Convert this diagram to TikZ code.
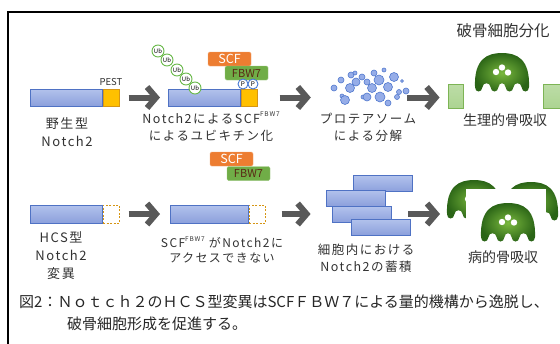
\documentclass[tikz,border=0pt]{standalone}
\usepackage{fontspec}
\setmainfont{Noto Sans CJK JP}
\newfontfamily\jpsp[LetterSpace=12]{Noto Sans CJK JP}
\usetikzlibrary{arrows.meta,positioning}

\definecolor{barline}{RGB}{79,114,196}
\definecolor{barhi}{RGB}{178,194,236}
\definecolor{barlo}{RGB}{140,160,220}
\definecolor{pestfill}{RGB}{255,192,0}
\definecolor{pestline}{RGB}{214,150,20}
\definecolor{scforange}{RGB}{237,125,49}
\definecolor{fbwgreen}{RGB}{112,173,71}
\definecolor{fbwtext}{RGB}{90,40,20}
\definecolor{ubgreen}{RGB}{104,184,72}
\definecolor{pblue}{RGB}{70,120,210}
\definecolor{arrowgray}{RGB}{89,89,89}
\definecolor{protfill}{RGB}{150,173,232}
\definecolor{protline}{RGB}{80,120,205}
\definecolor{boneline}{RGB}{125,180,85}
\definecolor{bonefill}{RGB}{172,212,145}
\definecolor{ocdark}{RGB}{42,100,22}
\definecolor{oclight}{RGB}{122,184,62}
\definecolor{txt}{RGB}{50,50,50}

\newcommand{\fbwsup}{\raisebox{0.55em}{\fontsize{6.5}{6.5}\selectfont FBW7}}

% osteoclast: dome with four feet, origin at top centre
\tikzset{
  osteo/.pic={
    \shade[inner color=oclight, outer color=ocdark]
      (-27,34) .. controls (-28,6) and (-15,0) .. (0,0)
      .. controls (15,0) and (28,6) .. (27,34)
      .. controls (27,40) and (20,40) .. (19.5,34)
      .. controls (19,29) and (12,29) .. (11.5,34)
      .. controls (11,40) and (4,40) .. (3.5,34)
      .. controls (3,29) and (-3,29) .. (-3.5,34)
      .. controls (-4,40) and (-11,40) .. (-11.5,34)
      .. controls (-12,29) and (-19,29) .. (-19.5,34)
      .. controls (-20,40) and (-27,40) .. (-27,34) -- cycle;
    \fill[white] (-6,19) circle (3.2) (0,14.5) circle (3.2) (6,19.5) circle (3.2);
  }
}

\begin{document}
\begin{tikzpicture}[x=1pt, y=-1pt,
    bar/.style={draw=barline, line width=0.8, top color=barhi, bottom color=barlo, inner sep=0, anchor=west},
    pest/.style={draw=pestline, line width=0.8, fill=pestfill, minimum width=16, inner sep=0, anchor=west},
    nopest/.style={draw=pestline, line width=0.8, dash pattern=on 2pt off 1.5pt, fill=white, minimum width=16, inner sep=0, anchor=west},
    stackbar/.style={draw=barline, line width=0.8, top color=barhi, bottom color=barlo, minimum width=59, minimum height=16, inner sep=0},
    scf/.style={rounded corners=1.5, fill=scforange, draw=scforange!70!white, text=white, minimum width=43, minimum height=14, inner sep=0, font=\fontsize{12.5}{12.5}\selectfont},
    fbw/.style={rounded corners=1.5, fill=fbwgreen, draw=fbwgreen!70!white, text=fbwtext, minimum width=43, minimum height=14, inner sep=0, font=\fontsize{11}{11}\selectfont},
    ub/.style={circle, draw=ubgreen, fill=white, line width=0.9, minimum size=12, inner sep=0, font=\fontsize{6}{6}\selectfont},
    phos/.style={circle, draw=pblue, fill=white, line width=0.9, minimum size=10, inner sep=0, font=\fontsize{6.5}{6.5}\selectfont},
    bone/.style={draw=boneline, line width=0.8, top color=bonefill!80!white, bottom color=bonefill, minimum height=24, inner sep=0},
    bubble/.style={draw=protline, line width=0.6, fill=protfill},
    bigarrow/.style={draw=arrowgray, line width=6, -{Straight Barb[length=9pt, width=21pt]}},
    lbl/.style={text=txt, align=center, inner sep=0, font=\jpsp\fontsize{12.5}{17}\selectfont},
    caption/.style={text=black!85, inner sep=0, anchor=west, font=\fontsize{15}{18}\selectfont}
]
\useasboundingbox (0,0) rectangle (560,343);

% frame
\draw[line width=1.6] (8,350) -- (8,12) -- (570,12);

% wild-type Notch2
\node[bar, minimum width=72, minimum height=17] (wt) at (30,97.5) {};
\node[pest, minimum height=17] (wtpest) at (wt.east) {};
\node[font=\fontsize{9.5}{9.5}\selectfont, text=txt] (pestlbl) at (111,82) {PEST};
\node[lbl, font=\jpsp\fontsize{13}{18}\selectfont] (wtlbl) at (67,132) {野生型\\Notch2};

% ubiquitination
\node[bar, minimum width=72, minimum height=17] (ubbar) at (168,97.5) {};
\node[pest, minimum height=17] (ubpest) at (ubbar.east) {};
\node[scf] (scf1) at (229.5,59) {SCF};
\node[fbw] (fbw1) at (246.5,73) {FBW7};
\node[phos] (p1) at (243,84) {P};
\node[phos] (p2) at (253,84) {P};
\foreach \i/\x/\y in {1/158/51, 2/167/60, 3/177/70, 4/186/79, 5/195/88}
  \node[ub] (ub\i) at (\x,\y) {Ub};
\node[lbl] (ublbl) at (211,127) {Notch2によるSCF\fbwsup\\によるユビキチン化};

% proteasome
\node[inner sep=0, minimum width=80, minimum height=38] (prot) at (370,89) {};
\foreach \x/\y/\r in {334/88/3, 341/80/3, 342/96/2, 345/100/4.5, 350/88/4.5, 351/75/3,
    355/73/2, 356/82/4, 362/77/3, 363/97/2, 367/82/3, 367/97/4, 372/88/4.5, 374/73/3,
    379/80/5, 380/97/5, 384/70/2, 388/87/4.5, 388/103/3, 394/77/4.5, 397/97/2.5,
    399/92/2.5, 402/81/1.5, 406/91/3}
  \filldraw[bubble] (\x,\y) circle (\r);
\node[lbl] (protlbl) at (368,127) {プロテアソーム\\による分解};

% normal bone resorption
\node[bone, minimum width=15] (boneL) at (455.5,96) {};
\node[bone, minimum width=18] (boneR) at (552,96) {};
\pic at (502,53) {osteo};
\node[text=txt, font=\fontsize{15.5}{15.5}\selectfont] (difflbl) at (503,31) {破骨細胞分化};
\node[text=txt, font=\fontsize{14}{14}\selectfont] (physlbl) at (505,120) {生理的骨吸収};

% HCS mutant
\node[bar, minimum width=72, minimum height=18] (hcs) at (30,214) {};
\node[nopest, minimum height=18] (hcsdash) at (hcs.east) {};
\node[lbl, font=\jpsp\fontsize{13}{18}\selectfont] (hcslbl) at (61,256) {HCS型\\Notch2\\変異};

\node[bar, minimum width=78, minimum height=18] (nobar) at (170,214) {};
\node[nopest, minimum height=18] (nodash) at (nobar.east) {};
\node[scf] (scf2) at (231.5,159) {SCF};
\node[fbw] (fbw2) at (248.5,173.5) {FBW7};
\node[lbl, font=\jpsp\fontsize{12}{15}\selectfont] (nolbl) at (222,250) {SCF\fbwsup\ がNotch2に\\アクセスできない};

% accumulation
\node[stackbar] (barA) at (382.5,183.5) {};
\node[stackbar] (barB) at (355.5,198) {};
\node[stackbar] (barC) at (361.5,214.5) {};
\node[stackbar] (barD) at (380.5,227) {};
\node[lbl] (acclbl) at (366,258) {細胞内における\\Notch2の蓄積};

% pathological bone resorption
\pic at (474,180) {osteo};
\pic at (531,182) {osteo};
\fill[white] (466,189) rectangle (546,246);
\pic at (508,203) {osteo};
\coordinate (ocin) at (447,214);
\node[text=txt, font=\fontsize{14}{14}\selectfont] (pathlbl) at (503,257) {病的骨吸収};

% arrows
\draw[bigarrow, shorten <=9pt, shorten >=8pt] (wtpest.east) -- (ubbar.west);
\draw[bigarrow, shorten <=22pt, shorten >=19pt] (ubpest.east) -- (ubpest.east -| prot.west);
\draw[bigarrow, shorten <=-3pt, shorten >=8pt] (prot.east |- ubbar.east) -- (boneL.west |- ubbar.east);
\draw[bigarrow, shorten <=9pt, shorten >=10pt] (hcsdash.east) -- (nobar.west);
\draw[bigarrow, shorten <=16pt, shorten >=15pt] (nodash.east) -- (nodash.east -| barB.west);
\draw[bigarrow, shorten <=17pt, shorten >=7pt] (barC.east |- ocin) -- (ocin);

% caption
\node[caption] (cap1) at (19,302) {図2：Ｎｏｔｃｈ２のＨＣＳ型変異はSCFＦＢＷ７による量的機構から逸脱し、};
\node[caption] (cap2) at (67,324) {破骨細胞形成を促進する。};
\end{tikzpicture}
\end{document}
